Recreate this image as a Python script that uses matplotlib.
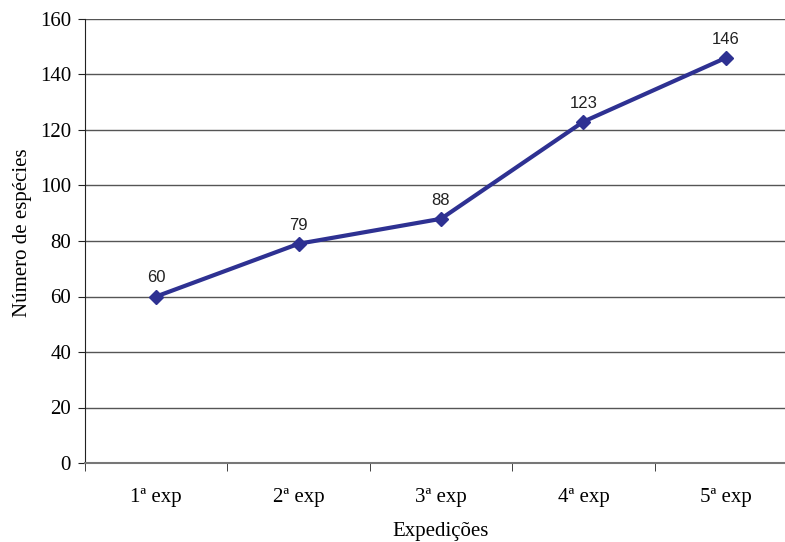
import matplotlib
matplotlib.use("Agg")
import matplotlib.pyplot as plt
from matplotlib.ticker import FixedLocator

categories = ["1ª exp", "2ª exp", "3ª exp", "4ª exp", "5ª exp"]
values = [60, 79, 88, 123, 146]
yticks = [0, 20, 40, 60, 80, 100, 120, 140, 160]

fig = plt.figure(figsize=(7.85, 5.42), dpi=100)
ax = fig.add_axes([85/785, 1-463/542, 712/785, (463-19)/542])

x = list(range(len(categories)))
ax.plot(x, values, color="#2E3192", lw=3, marker="D", markersize=7, zorder=3)
for xi, v in zip(x, values):
    ax.annotate(str(v), (xi, v), xytext=(0, 8), textcoords="offset points",
                ha="center", va="bottom", fontsize=12, family="Liberation Sans", color="#222222")

ax.set_xlim(-0.5, len(categories) - 0.5)
ax.set_ylim(0, 160)
ax.set_yticks(yticks)
ax.yaxis.grid(True, color="#555555", lw=1)
ax.set_axisbelow(True)

ax.set_xticks(x)
ax.set_xticklabels(categories, family="Liberation Serif", fontsize=15)
ax.xaxis.set_minor_locator(FixedLocator([i - 0.5 for i in range(len(categories) + 1)]))
ax.tick_params(axis="x", which="major", length=0, pad=18)
ax.tick_params(axis="x", which="minor", length=6, color="#222222", direction="out")
ax.tick_params(axis="y", length=5, color="#222222", labelsize=15, pad=5)
for lab in ax.get_yticklabels():
    lab.set_family("Liberation Serif")

for s in ["top", "right"]:
    ax.spines[s].set_visible(False)
ax.spines["left"].set_color("#222222")
ax.spines["bottom"].set_color("#777777")
ax.spines["bottom"].set_linewidth(1.5)

ax.set_xlabel("Expedições", family="Liberation Serif", fontsize=15, labelpad=11)
ax.set_ylabel("Número de espécies", family="Liberation Serif", fontsize=15)
ax.yaxis.set_label_coords(-0.075, (463 - 233) / 444)

fig.savefig("out.png", dpi=100)
